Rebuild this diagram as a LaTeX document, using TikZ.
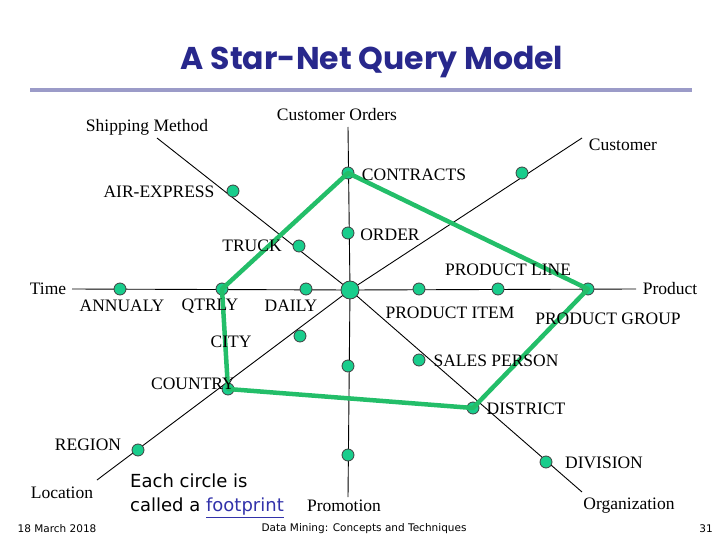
\documentclass[tikz,border=0pt]{standalone}
\usepackage{fontspec}
\setmainfont{Liberation Serif}
\newfontfamily\titlefont{Poppins}
\newfontfamily\notefont{DejaVu Sans}
\usetikzlibrary{calc}
\definecolor{titleblue}{RGB}{40, 40, 140}
\definecolor{barlilac}{RGB}{155, 155, 200}
\definecolor{footfill}{RGB}{25, 205, 140}
\definecolor{pathgreen}{RGB}{35, 190, 105}
\definecolor{linkblue}{RGB}{50, 50, 170}

\tikzset{
    foot/.style={circle, draw=black!75, fill=footfill, line width=0.8pt, inner sep=0pt, minimum size=12pt},
    hub/.style={foot, minimum size=18pt},
    lbl/.style={font=\fontsize{17.5}{20}\selectfont, inner sep=0pt},
    axis/.style={line width=0.9pt, black},
    query/.style={pathgreen, line width=4.5pt, line join=round}
}

\begin{document}
\begin{tikzpicture}[x=1pt, y=-1pt]
    \useasboundingbox (0,0) rectangle (720,540);

    % 1. Title and bar
    \node[text=titleblue, font=\titlefont\bfseries\fontsize{31.5}{34}\selectfont] (title) at (372,62) {A Star-Net Query Model};
    \fill[barlilac] (30,88.5) rectangle (692,92);

    % 2. Axis end points
    \coordinate (C) at (350,290);     % centre of the star
    \coordinate (tEnd) at (72,289);   % Time
    \coordinate (pEnd) at (636,289);  % Product
    \coordinate (oEnd) at (348,127);  % Customer Orders
    \coordinate (mEnd) at (348,497);  % Promotion
    \coordinate (sEnd) at (157,138);  % Shipping Method
    \coordinate (cEnd) at (582,138);  % Customer
    \coordinate (lEnd) at (97,480);   % Location
    \coordinate (gEnd) at (582,492);  % Organization

    % 3. Axes
    \foreach \e in {tEnd, pEnd, oEnd, mEnd, sEnd, cEnd, lEnd, gEnd}
        \draw[axis] (C) -- (\e);

    % 4. Footprints
    \node[foot] (annualy) at (120,289) {};
    \node[foot] (qtrly) at (222,289) {};
    \node[foot] (daily) at (306,289) {};
    \node[foot] (pitem) at (419,289) {};
    \node[foot] (pline) at (498,289) {};
    \node[foot] (pgroup) at (588,289) {};
    \node[foot] (contracts) at (348,173) {};
    \node[foot] (order) at (348,233) {};
    \node[foot] (promoA) at (348,366) {};
    \node[foot] (promoB) at (348,455) {};
    \node[foot] (airexp) at (233,191) {};
    \node[foot] (truck) at (299,246) {};
    \node[foot] (cust) at (522,173) {};
    \node[foot] (city) at (300,336) {};
    \node[foot] (country) at (228,389) {};
    \node[foot] (region) at (138,450) {};
    \node[foot] (sales) at (419,360) {};
    \node[foot] (district) at (473,408) {};
    \node[foot] (division) at (546,462) {};
    \node[hub] (centre) at (C) {};

    % 5. Query path
    \draw[query] (qtrly.center) -- (contracts.center) -- (pgroup.center)
        -- (district.center) -- (country.center) -- cycle;

    % 6. Dimension names
    \node[lbl] (tTime) at (48,289) {Time};
    \node[lbl] (tProd) at (670,289) {Product};
    \node[lbl] (tOrders) at (337,115) {Customer Orders};
    \node[lbl] (tPromo) at (344,506) {Promotion};
    \node[lbl] (tShip) at (147,127) {Shipping Method};
    \node[lbl] (tCust) at (623,145) {Customer};
    \node[lbl] (tLoc) at (62,493) {Location};
    \node[lbl] (tOrg) at (629,506) {Organization};

    % 7. Footprint labels
    \node[lbl] (lAnn) at (122,306) {ANNUALY};
    \node[lbl] (lQtr) at (210,306) {QTRLY};
    \node[lbl] (lDay) at (291,306) {DAILY};
    \node[lbl] (lItem) at (450,313) {PRODUCT ITEM};
    \node[lbl] (lLine) at (508,270) {PRODUCT LINE};
    \node[lbl] (lGroup) at (608,319) {PRODUCT GROUP};
    \node[lbl] (lCon) at (414,175) {CONTRACTS};
    \node[lbl] (lOrd) at (390,235) {ORDER};
    \node[lbl] (lAir) at (159,192) {AIR-EXPRESS};
    \node[lbl] (lTruck) at (252,246) {TRUCK};
    \node[lbl] (lCity) at (231,342) {CITY};
    \node[lbl] (lCountry) at (193,384) {COUNTRY};
    \node[lbl] (lRegion) at (88,445) {REGION};
    \node[lbl] (lSales) at (496,361) {SALES PERSON};
    \node[lbl] (lDist) at (526,409) {DISTRICT};
    \node[lbl] (lDiv) at (604,463) {DIVISION};

    % 8. Note and footer
    \node[font=\notefont\fontsize{18}{24}\selectfont, align=left, inner sep=0pt] (note) at (207,496)
        {Each circle is\\called a {\color{linkblue}\underline{footprint}}};
    \node[font=\notefont\fontsize{10.5}{12}\selectfont, inner sep=0pt] (date) at (57,529) {18 March 2018};
    \node[font=\notefont\fontsize{10.5}{12}\selectfont, inner sep=0pt] (book) at (364,529) {Data Mining: Concepts and Techniques};
    \node[font=\notefont\fontsize{10.5}{12}\selectfont, inner sep=0pt] (page) at (706,529) {31};
\end{tikzpicture}
\end{document}
